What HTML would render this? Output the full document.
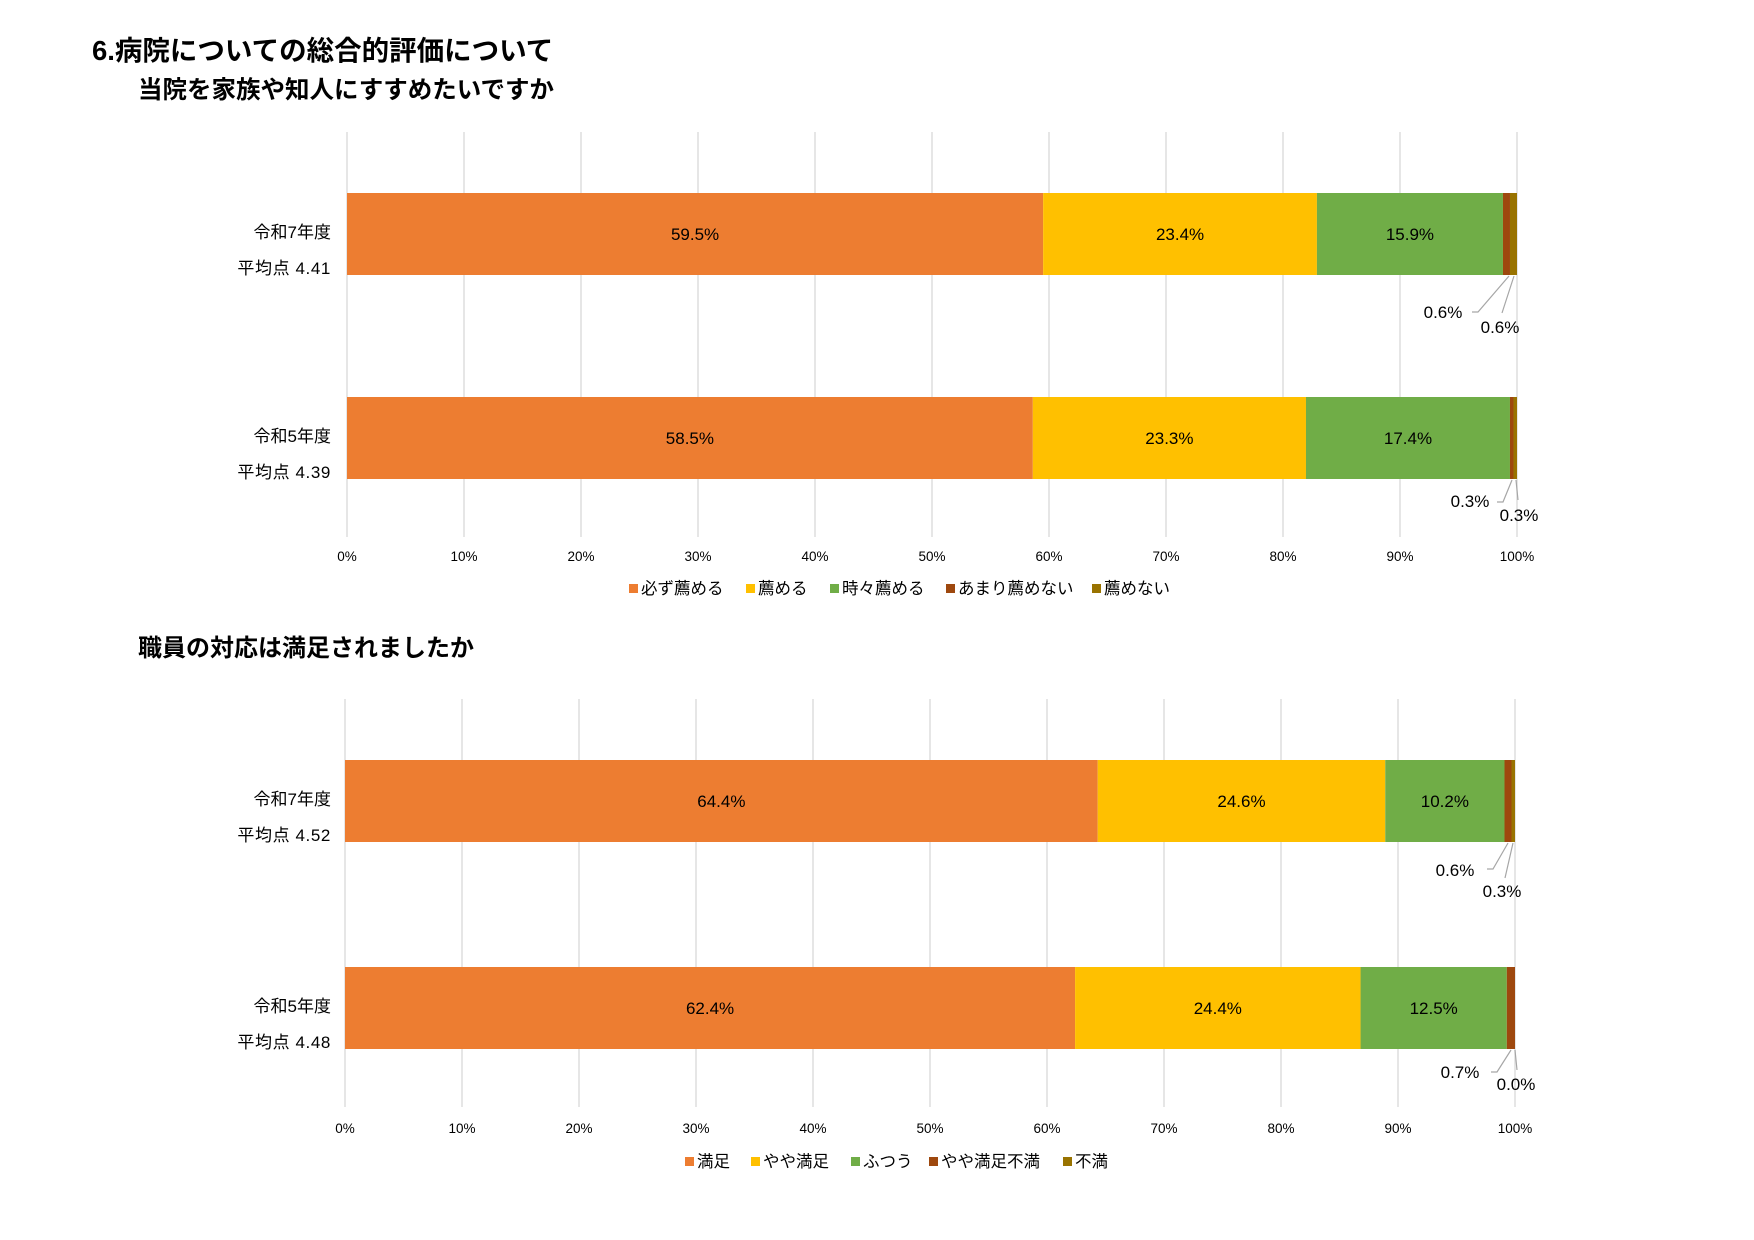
<!DOCTYPE html>
<html><head><meta charset="utf-8"><style>
html,body{margin:0;padding:0;background:#fff}
svg{display:block}
text{font-family:"Liberation Sans","Noto Sans CJK JP",sans-serif;fill:#000}
</style></head><body>
<svg id="s" width="1754" height="1240" viewBox="0 0 1754 1240" xmlns="http://www.w3.org/2000/svg">
<text x="92" y="60" font-size="27.5" font-weight="bold">6.病院についての総合的評価について</text>
<text x="138" y="98" font-size="24.5" font-weight="bold">当院を家族や知人にすすめたいですか</text>
<text x="138" y="656" font-size="24" font-weight="bold">職員の対応は満足されましたか</text>
</svg>
<script>
var S=document.getElementById('s'),NS='http://www.w3.org/2000/svg';
function el(t,a,txt){var e=document.createElementNS(NS,t);for(var k in a)e.setAttribute(k,a[k]);if(txt!=null)e.textContent=txt;S.appendChild(e);return e;}
var C=['#ED7D31','#FFC000','#70AD47','#9E480E','#997300'];
function chart(o){
 var x0=o.x0,x1=o.x1,w=x1-x0;
 for(var i=0;i<=10;i++){var x=x0+w*i/10;el('line',{x1:x,y1:o.gt,x2:x,y2:o.gb,stroke:'#d9d9d9','stroke-width':1.3});
  el('text',{x:x,y:o.ty,'font-size':13.5,'text-anchor':'middle'},(i*10)+'%');}
 o.bars.forEach(function(b){
  var tot=b.v.reduce(function(a,c){return a+c},0),c=0;
  b.v.forEach(function(v,j){var xa=x0+w*c/tot;c+=v;var xb=x0+w*c/tot;
   if(v>0)el('rect',{x:xa,y:b.y0,width:xb-xa,height:b.y1-b.y0,fill:C[j]});
   if(j<3)el('text',{x:(xa+xb)/2,y:(b.y0+b.y1)/2+6,'font-size':17,'text-anchor':'middle'},v.toFixed(1)+'%');
  });
  el('text',{x:331,y:b.y0+45,'font-size':17,'text-anchor':'end'},b.l1);
  el('text',{x:331,y:b.y0+81,'font-size':17,'text-anchor':'end','letter-spacing':'0.6'},b.l2);
  b.s.forEach(function(s){
   el('polyline',{points:s.p,fill:'none',stroke:'#a6a6a6','stroke-width':1.2});
   el('text',{x:s.x,y:s.y,'font-size':17,'text-anchor':'middle'},s.t);
  });
 });
 o.leg.forEach(function(g,j){el('rect',{x:g[0],y:o.ly-10,width:9,height:9,fill:C[j]});
  el('text',{x:g[0]+12,y:o.ly,'font-size':16.5},g[1]);});
}
chart({x0:347,x1:1517,gt:132,gb:537,ty:561,ly:594,
 bars:[{y0:193,y1:275,v:[59.5,23.4,15.9,0.6,0.6],l1:'令和7年度',l2:'平均点 4.41',
   s:[{p:'1509,276 1478,312 1472,312',t:'0.6%',x:1443,y:318},{p:'1514,276 1502,313',t:'0.6%',x:1500,y:333}]},
  {y0:397,y1:479,v:[58.5,23.3,17.4,0.3,0.3],l1:'令和5年度',l2:'平均点 4.39',
   s:[{p:'1512,480 1503,502 1497,502',t:'0.3%',x:1470,y:507},{p:'1516,480 1518,500',t:'0.3%',x:1519,y:521}]}],
 leg:[[629,'必ず薦める'],[746,'薦める'],[830,'時々薦める'],[946,'あまり薦めない'],[1092,'薦めない']]});
chart({x0:345,x1:1515,gt:699,gb:1107,ty:1133,ly:1167,
 bars:[{y0:760,y1:842,v:[64.4,24.6,10.2,0.6,0.3],l1:'令和7年度',l2:'平均点 4.52',
   s:[{p:'1508,843 1493,869 1487,869',t:'0.6%',x:1455,y:876},{p:'1513,843 1505,878',t:'0.3%',x:1502,y:897}]},
  {y0:967,y1:1049,v:[62.4,24.4,12.5,0.7,0.0],l1:'令和5年度',l2:'平均点 4.48',
   s:[{p:'1511,1050 1497,1072 1491,1072',t:'0.7%',x:1460,y:1078},{p:'1515,1050 1517,1070',t:'0.0%',x:1516,y:1090}]}],
 leg:[[685,'満足'],[751,'やや満足'],[851,'ふつう'],[929,'やや満足不満'],[1063,'不満']]});
</script>
</body></html>
